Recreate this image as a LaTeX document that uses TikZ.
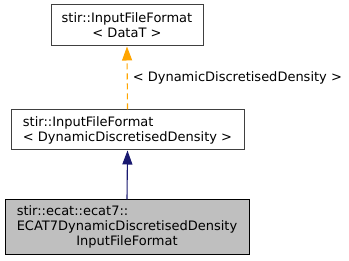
\documentclass[tikz,border=0pt]{standalone}
\usepackage{fontspec}
\setmainfont{DejaVu Sans}
\usetikzlibrary{arrows.meta}
\definecolor{edgeorange}{RGB}{255,165,0}
\definecolor{edgeblue}{RGB}{25,25,112}
\definecolor{boxline}{RGB}{64,64,64}
\definecolor{boxfill}{RGB}{191,191,191}
\begin{document}
\begin{tikzpicture}[x=1pt,y=-1pt,
  cls/.style={draw=boxline,line width=1pt,fill=white,inner sep=0pt,font=\fontsize{13}{15}\selectfont},
  hilite/.style={cls,draw=black,fill=boxfill},
  tmplarrow/.style={edgeorange,line width=1.1pt,dash pattern=on 6pt off 4pt,-{Triangle[length=14pt,width=10pt]}},
  inhearrow/.style={edgeblue,line width=1.1pt,-{Triangle[length=14pt,width=10pt]}},
  edgelabel/.style={text=black,font=\fontsize{13}{15}\selectfont,anchor=west,inner sep=0pt}]
\useasboundingbox (0,0) rectangle (349,261);
% class boxes
\node[cls,minimum width=152pt,minimum height=41pt,align=center] (base) at (127,25.5)
  {stir::InputFileFormat\\\textless{} DataT \textgreater};
\node[cls,minimum width=233pt,minimum height=40pt,align=left] (inst) at (127.5,130)
  {stir::InputFileFormat\\\textless{} DynamicDiscretisedDensity \textgreater};
\node[hilite,minimum width=244pt,minimum height=55pt] (ecat) at (127,227.5)
  {\renewcommand\arraystretch{0.98}\begin{tabular}{@{}l@{}}stir::ecat::ecat7::\\ECAT7DynamicDiscretisedDensity\\\multicolumn{1}{@{}c@{}}{InputFileFormat}\end{tabular}};
% inheritance connectors
\draw[tmplarrow] (inst.north) -- (base.south)
  node[edgelabel,pos=0.5,xshift=5pt] {\textless{} DynamicDiscretisedDensity \textgreater};
\draw[inhearrow] (ecat.north) -- (inst.south);
\end{tikzpicture}
\end{document}
